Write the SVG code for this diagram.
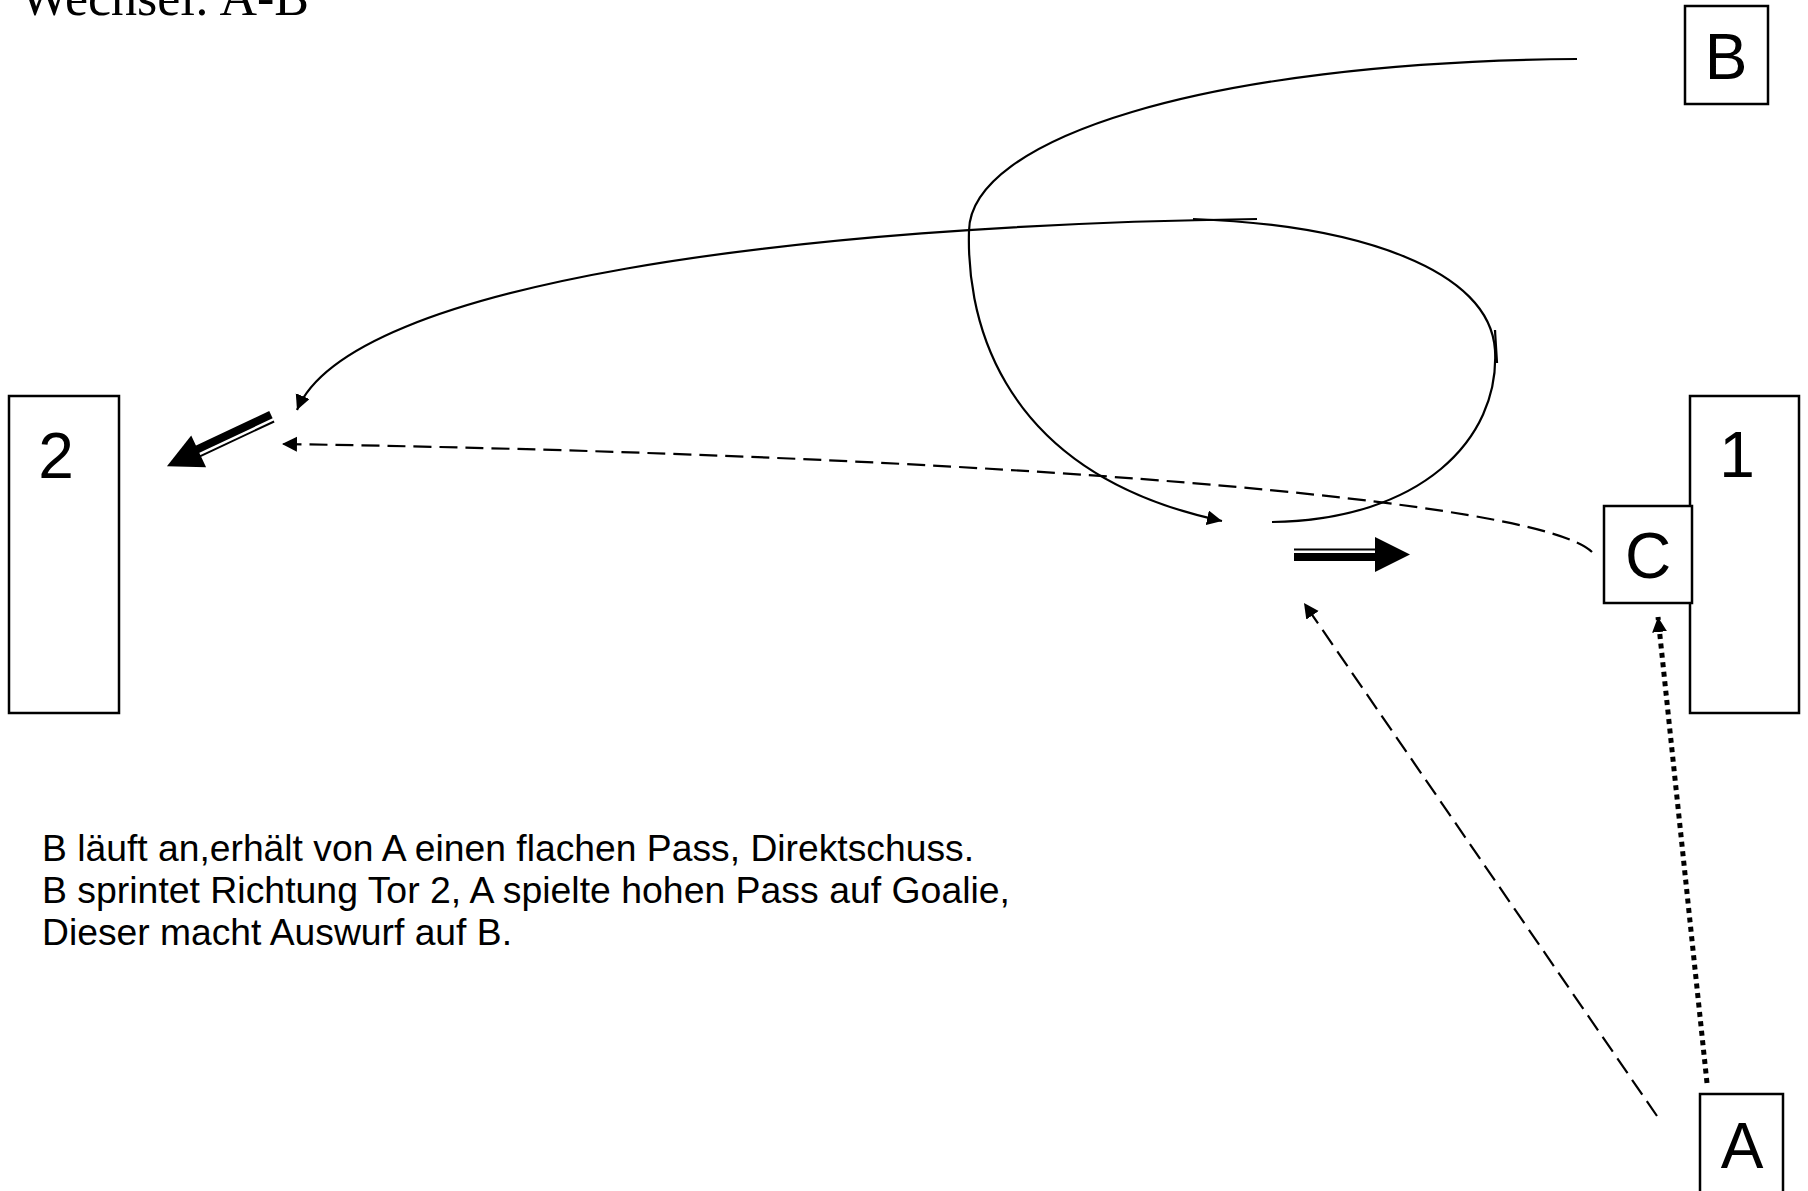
<svg xmlns="http://www.w3.org/2000/svg" xmlns:xlink="http://www.w3.org/1999/xlink" width="1808" height="1191" viewBox="0 0 1808 1191">
<style>
.box{fill:#fff;stroke:#000;stroke-width:2.5}
.lbl{font-family:"Liberation Sans",Arial,sans-serif;font-size:64px;fill:#000;text-anchor:middle}
.txt{font-family:"Liberation Sans",Arial,sans-serif;font-size:37px;fill:#000}
.line{fill:none;stroke:#000;stroke-width:2.2}
.dash{fill:none;stroke:#000;stroke-width:2.2;stroke-dasharray:18 8}
.dot{fill:none;stroke:#000;stroke-width:5;stroke-dasharray:5 4.5}
</style>
<defs>
<marker id="ah" markerUnits="userSpaceOnUse" markerWidth="16" markerHeight="16" refX="15" refY="7.5" orient="auto">
<path d="M0,0 L15,7.5 L0,15 z" fill="#000"/>
</marker>
<g id="dblarrow">
<rect x="0" y="-6" width="82" height="2" fill="#000"/>
<rect x="0" y="-1.5" width="82" height="8" fill="#000"/>
<polygon points="81,-17.5 116,0 81,17.5" fill="#000"/>
</g>
</defs>
<rect width="1808" height="1191" fill="#fff"/>
<text x="20" y="15" font-family="'Liberation Serif','Times New Roman',serif" font-size="52" textLength="289" lengthAdjust="spacingAndGlyphs">Wechsel: A-B</text>
<g id="node-B"><rect class="box" x="1685" y="6" width="83" height="98"/><text class="lbl" x="1726" y="79">B</text></g>
<g id="node-goal2"><rect class="box" x="9" y="396" width="110" height="317"/><text class="lbl" x="56" y="478">2</text></g>
<g id="node-goal1"><rect class="box" x="1690" y="396" width="109" height="317"/><text class="lbl" x="1737" y="477">1</text></g>
<g id="node-C"><rect class="box" x="1604" y="506" width="88" height="97"/><text class="lbl" x="1648" y="578">C</text></g>
<g id="node-A"><rect class="box" x="1700" y="1094" width="83" height="110"/><text class="lbl" x="1742" y="1168">A</text></g>
<g id="connectors">
<path class="line" d="M1577,59 C1200,62 970,140 969,231 C967,300 985,470 1222,521" marker-end="url(#ah)"/>
<path class="line" d="M1272,522 C1420,520 1500,440 1495,350 C1490,270 1360,225 1193,219"/>
<line class="line" x1="1495" y1="330" x2="1497" y2="363"/>
<path class="line" d="M1257,219 C800,225 350,282 297,410" marker-end="url(#ah)"/>
<path class="dash" d="M1592,552 C1540,500 1000,455 282,444" marker-end="url(#ah)"/>
<path class="dash" d="M1657,1116 L1304,603" marker-end="url(#ah)"/>
<path class="dot" d="M1707,1083 L1658,617" marker-end="url(#ah)"/>
<use xlink:href="#dblarrow" transform="translate(1294,554.5)"/>
<use xlink:href="#dblarrow" transform="translate(272,417) rotate(154.9)"/>
</g>
<g id="description">
<text class="txt" x="42" y="861" textLength="932" lengthAdjust="spacingAndGlyphs">B läuft an,erhält von A einen flachen Pass, Direktschuss.</text>
<text class="txt" x="42" y="903" textLength="968" lengthAdjust="spacingAndGlyphs">B sprintet Richtung Tor 2, A spielte hohen Pass auf Goalie,</text>
<text class="txt" x="42" y="945" textLength="470" lengthAdjust="spacingAndGlyphs">Dieser macht Auswurf auf B.</text>
</g>
</svg>
